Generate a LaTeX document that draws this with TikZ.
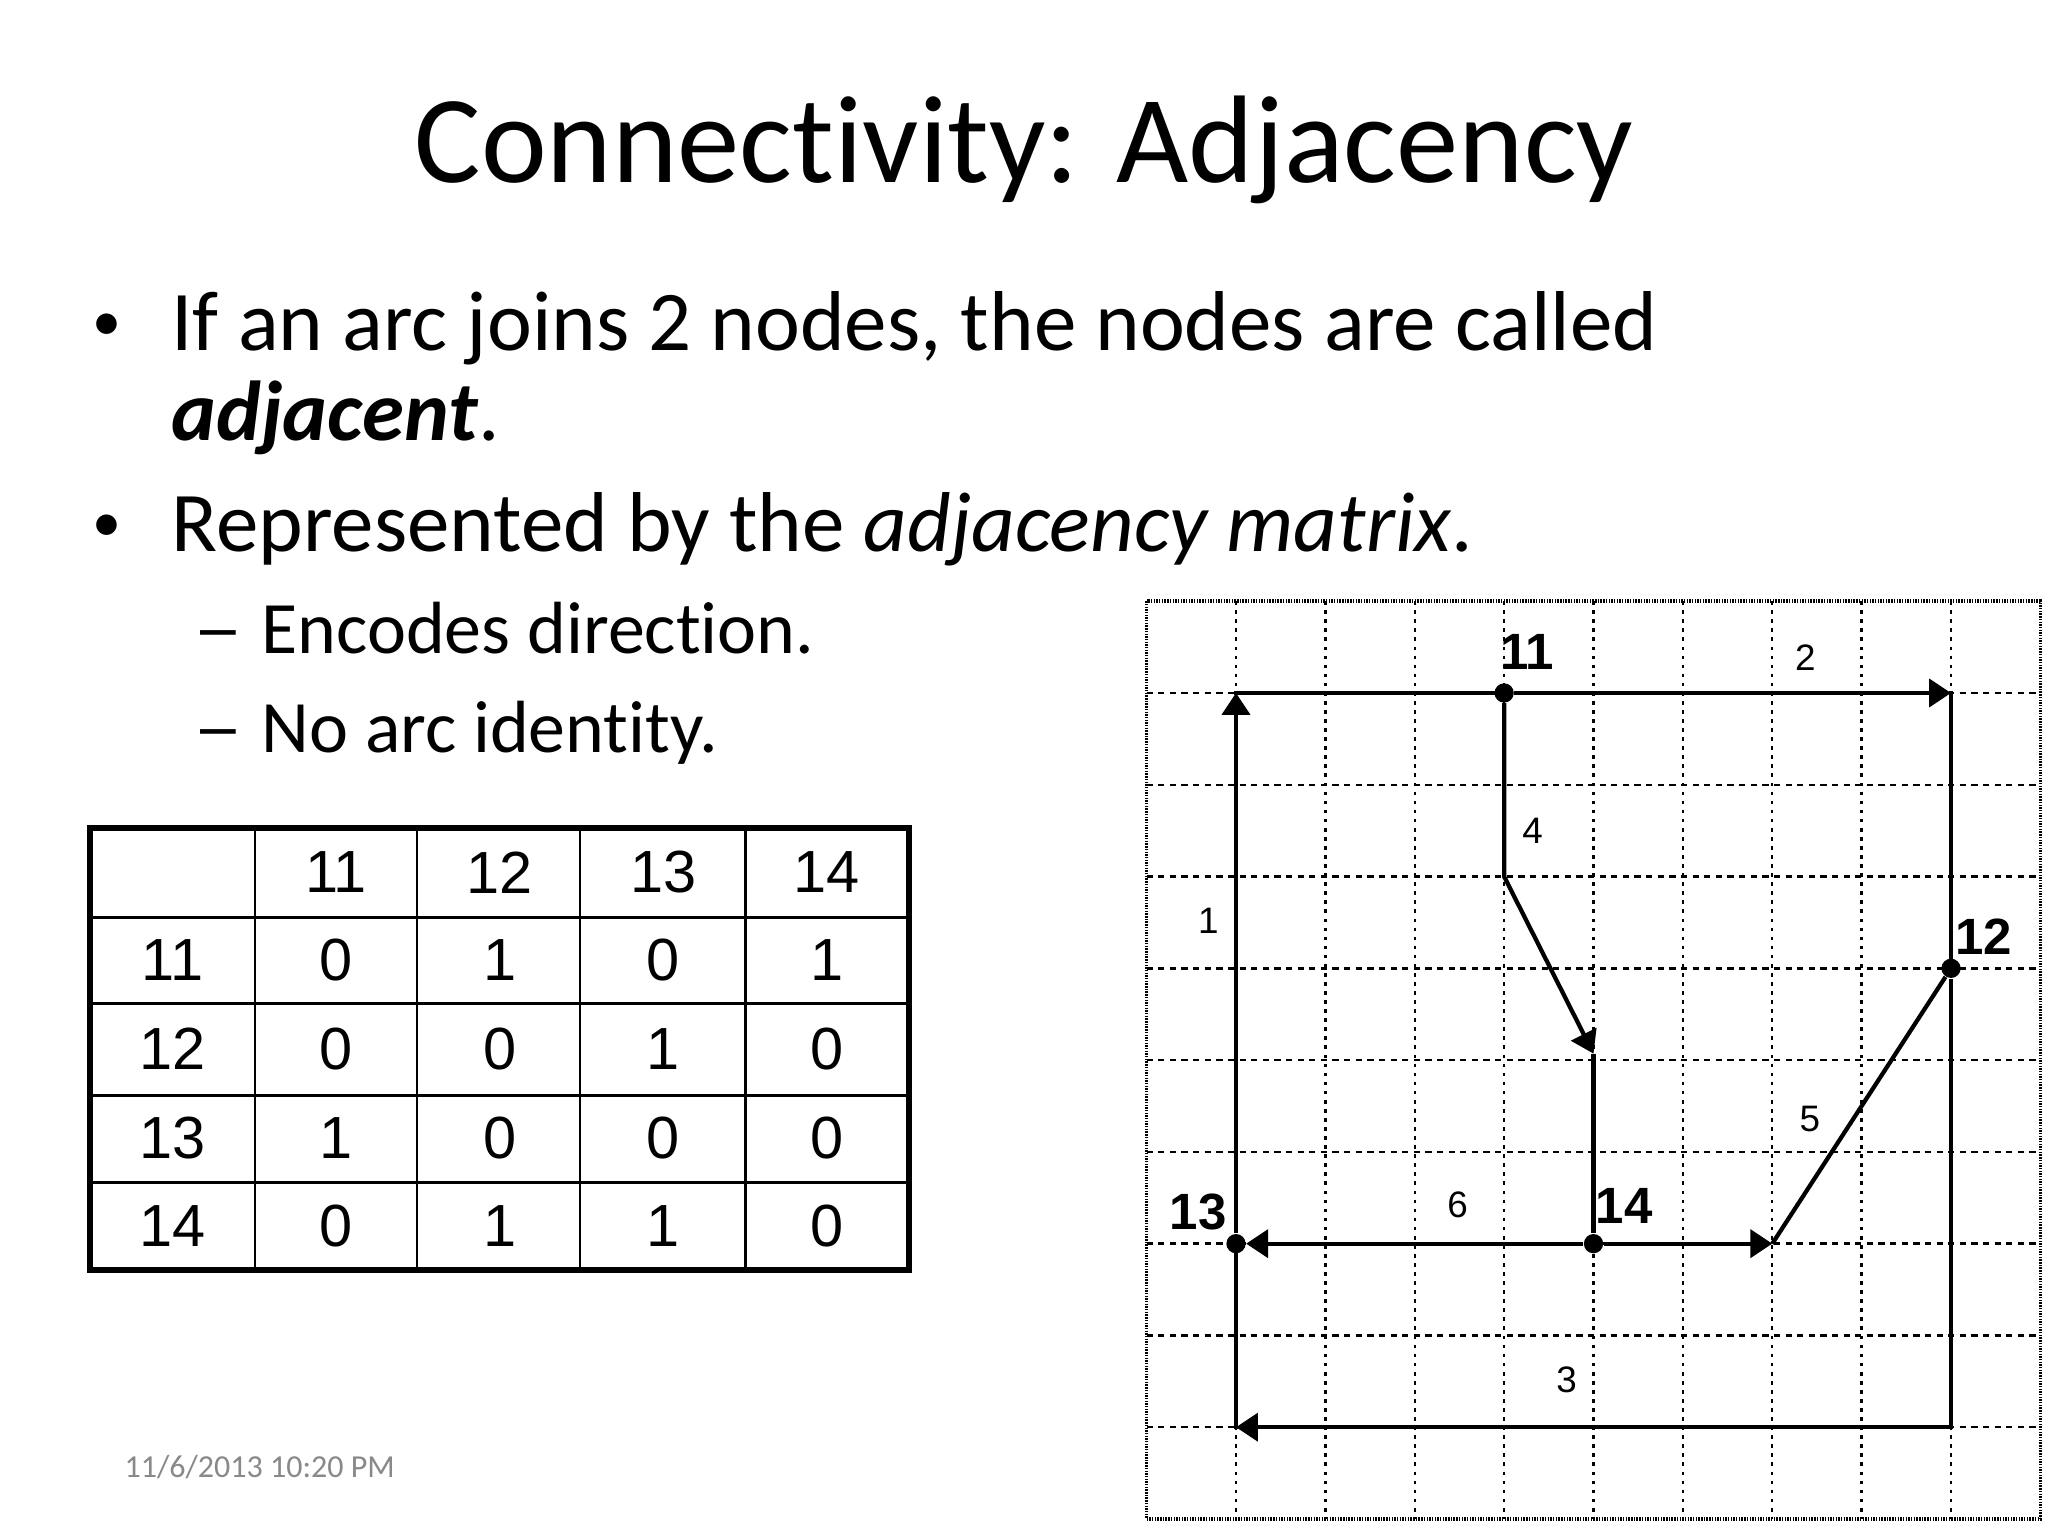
\documentclass[tikz,border=0pt]{standalone}
\usepackage{fontspec}
\setmainfont{Carlito}[Ligatures={NoCommon,NoContextual}]
\newfontfamily\tabfont{Liberation Sans}
\usetikzlibrary{arrows.meta}
\definecolor{dategray}{RGB}{137,137,137}

\tikzset{
  txt/.style={anchor=base west, inner sep=0pt, font=\fontsize{30}{36}\selectfont},
  subtxt/.style={anchor=base west, inner sep=0pt, font=\fontsize{26.1}{31}\selectfont},
  bul/.style={anchor=base, inner sep=0pt, font=\fontsize{20.5}{25}\selectfont},
  cell/.style={inner sep=0pt, font=\tabfont\fontsize{21}{25}\selectfont},
  arc/.style={line width=1.5pt},
  arr/.style={-{Triangle[length=7.7pt,width=9.8pt]}},
  dot/.style={circle, fill, inner sep=0pt, minimum size=6.8pt},
  vgrid/.style={line width=0.85pt, dash pattern=on 1.3pt off 1.9pt},
  hgrid/.style={line width=0.85pt, dash pattern=on 2.2pt off 1.9pt},
  lab/.style={inner sep=0pt, font=\tabfont\fontsize{13}{15}\selectfont},
  nlab/.style={inner sep=0pt, font=\tabfont\bfseries\fontsize{18}{21}\selectfont}
}

\begin{document}
\begin{tikzpicture}[x=0.0124023cm, y=-0.0124023cm]
\useasboundingbox (0,0) rectangle (2048,1536);
\fill[white] (0,0) rectangle (2048,1536);

% title and bullets
\node[anchor=base, inner sep=0pt, font=\fontsize{44}{53}\selectfont] (title) at (1024,183) {Connectivity: Adjacency};
\node[bul] (b1) at (107,350) {\raisebox{3.5pt}{•}};
\node[txt] (l1) at (171,350) {If an arc joins 2 nodes, the nodes are called};
\node[txt] (l2) at (171,440) {\textbf{\textit{adjacent}}.};
\node[bul] (b2) at (107,551) {\raisebox{3.5pt}{•}};
\node[txt] (l3) at (171,551) {Represented by the \textit{adjacency matrix}.};
\node[subtxt] (d1) at (193,653) {\scalebox{1.35}[1]{–}};
\node[subtxt] (l4) at (261,653) {Encodes direction.};
\node[subtxt] (d2) at (193,752) {\scalebox{1.35}[1]{–}};
\node[subtxt] (l5) at (261,752) {No arc identity.};
\node[anchor=base west, inner sep=0pt, text=dategray, font=\fontsize{11.3}{13}\selectfont] (date) at (124,1477) {11/6/2013 10:20 PM};

% adjacency table
\foreach \x in {255,417,580,745} \draw[line width=1.05pt] (\x,828) -- (\x,1270);
\foreach \y in {917,1003,1095,1182} \draw[line width=1.05pt] (90,\y) -- (909,\y);
\draw[line width=2.1pt] (90,828) rectangle (909,1270);
\node[cell] (h11) at (336,872.5) {11};
\node[cell] (h12) at (499.7,872.5) {12};
\node[cell] (h13) at (663.3,872.5) {13};
\node[cell] (h14) at (826.9,872.5) {14};
\foreach \r/\ry/\vals in {11/960/{0,1,0,1}, 12/1049/{0,0,1,0}, 13/1138.5/{1,0,0,0}, 14/1226/{0,1,1,0}} {
  \node[cell] (r\r) at (172.5,\ry) {\r};
  \foreach \v [count=\c] in \vals
    \node[cell] (m\r-\c) at (172.5+163.6*\c,\ry) {\v};
}

% grid with the graph
\begin{scope}[shift={(1146.6,601.2)}, x=1.10877cm, y=-1.13853cm]
\foreach \i in {1,...,9} \draw[vgrid] (\i,0) -- (\i,10);
\foreach \j in {1,...,9} \draw[hgrid] (0,\j) -- (10,\j);
\draw[line width=1.3pt, dash pattern=on 0.5pt off 0.45pt] (0,0) rectangle (10,10);

\node[dot] (n11) at (4,1) {};
\node[dot] (n12) at (9,4) {};
\node[dot] (n13) at (1,7) {};
\node[dot] (n14) at (5,7) {};
\coordinate (c11) at (1,1);
\coordinate (c91) at (9,1);
\coordinate (c99) at (9,9);
\coordinate (c19) at (1,9);
\coordinate (c43) at (4,3);
\coordinate (c55) at (5,4.93);
\coordinate (c77) at (7,7);

\draw[arc,arr] (n13) -- (c11);
\draw[arc,line cap=rect] (c11) -- (n11);
\draw[arc,arr] (n11) -- (c91);
\draw[arc,line cap=rect] (c91) -- (n12);
\draw[arc,arr] (n12) -- (c99) -- (c19);
\draw[arc,line cap=rect] (c19) -- (n13);
\draw[arc,arr] (n11) -- (c43) -- (c55);
\draw[arc] (c55) -- (n14);
\draw[arc,arr] (n14) -- (c77);
\draw[arc] (c77) -- (n12);
\draw[arc,arr] (n14) -- (n13);

\node[lab] (a1) at (0.69,3.48) {1};
\node[lab] (a2) at (7.37,0.61) {2};
\node[lab] (a3) at (4.70,8.48) {3};
\node[lab] (a4) at (4.32,2.50) {4};
\node[lab] (a5) at (7.42,5.64) {5};
\node[lab] (a6) at (3.48,6.58) {6};
\node[nlab, anchor=base west] (t11) at (3.95,0.74) {11};
\node[nlab, anchor=base west] (t12) at (9.04,3.85) {12};
\node[nlab, anchor=base east] (t13) at (0.90,6.85) {13};
\node[nlab, anchor=base west] (t14) at (5.02,6.78) {14};
\end{scope}
\end{tikzpicture}
\end{document}
